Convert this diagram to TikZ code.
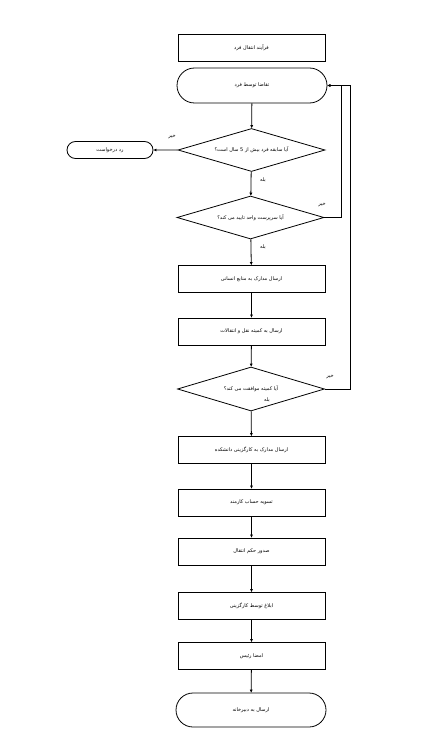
\documentclass[tikz,border=0pt]{standalone}
\usepackage{fontspec}
\newfontfamily\arabicfont[Script=Arabic]{DejaVu Sans}
\TeXXeTstate=1
\usetikzlibrary{arrows.meta,shapes.misc,shapes.geometric}
\newcommand{\fa}[1]{\beginR #1\endR}
\begin{document}
\begin{tikzpicture}[x=1pt,y=-1pt,
  lbl/.style={font=\arabicfont\fontsize{5}{6}\selectfont},
  stepbox/.style={draw, line width=0.8pt, rectangle, minimum width=147pt, minimum height=27pt, inner sep=0pt, lbl},
  termbox/.style={draw, line width=0.8pt, rounded rectangle, minimum width=150pt, minimum height=35pt, inner sep=0pt, lbl},
  decbox/.style={draw, line width=0.8pt, diamond, aspect=3.3, minimum width=147pt, minimum height=43pt, inner sep=0pt, lbl},
  arr/.style={draw, line width=0.8pt, -{Triangle[length=3pt,width=2.6pt]}},
  ans/.style={lbl, inner sep=0pt}
]
\useasboundingbox (0,0) rectangle (444,738);
\fill[white] (0,0) rectangle (444,738);

\node[stepbox] (title) at (251.5,47.5) {\fa{فرآیند انتقال فرد}};
\node[termbox] (start) at (252,85.5) {\fa{تقاضا توسط فرد}};
\node[decbox] (q1) at (251.5,150) {\fa{آیا سابقه فرد بیش از 5 سال است؟}};
\node[termbox, minimum width=86pt, minimum height=17pt] (reject) at (110,150) {\fa{رد درخواست}};
\node[decbox] (q2) at (250.5,217.5) {\fa{آیا سرپرست واحد تایید می کند؟}};
\node[stepbox] (s1) at (251.5,279) {\fa{ارسال مدارک به منابع انسانی}};
\node[stepbox] (s2) at (251.5,331.5) {\fa{ارسال به کمیته نقل و انتقالات}};
\node[decbox, minimum height=44pt] (q3) at (251,389) {\fa{آیا کمیته موافقت می کند؟}};
\node[stepbox] (s3) at (251.5,450) {\fa{ارسال مدارک به کارگزینی دانشکده}};
\node[stepbox] (s4) at (251.5,502.5) {\fa{تسویه حساب کارمند}};
\node[stepbox] (s5) at (251.5,551.5) {\fa{صدور حکم انتقال}};
\node[stepbox] (s6) at (251.5,606) {\fa{ابلاغ توسط کارگزینی}};
\node[stepbox] (s7) at (251.5,656) {\fa{امضا رئیس}};
\node[termbox, minimum height=34pt] (end) at (251,710) {\fa{ارسال به دبیرخانه}};

\path[arr] (start) -- (q1);
\path[arr] (q1) -- (reject);
\path[arr] (q1) -- (q2);
\path[arr] (q2.east) -- ++(17,0) |- (start.east);
\path[arr] (q2) -- (s1);
\path[arr] (s1) -- (s2);
\path[arr] (s2) -- (q3);
\path[arr] (q3.east) -- ++(25,0) |- (start.east);
\path[arr] (q3) -- (s3);
\path[arr] (s3) -- (s4);
\path[arr] (s4) -- (s5);
\path[arr] (s5) -- (s6);
\path[arr] (s6) -- (s7);
\path[arr] (s7) -- (end);

\node[ans] (n1) at (172,137) {\fa{خیر}};
\node[ans] (y1) at (263,180) {\fa{بله}};
\node[ans] (n2) at (322,205) {\fa{خیر}};
\node[ans] (y2) at (263,247) {\fa{بله}};
\node[ans] (n3) at (330,377) {\fa{خیر}};
\node[ans] (y3) at (267,400) {\fa{بله}};
\end{tikzpicture}
\end{document}
